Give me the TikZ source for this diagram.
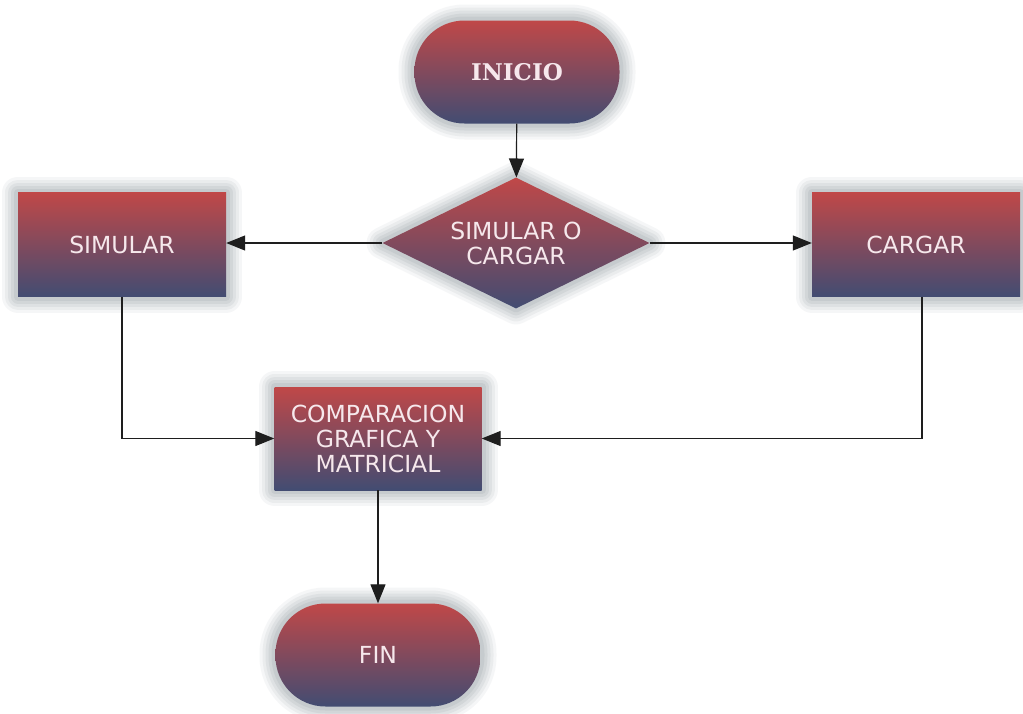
\documentclass[tikz,border=0pt]{standalone}
\usepackage{fontspec}
\setmainfont{DejaVu Sans}
\newfontfamily\slabfont{DejaVu Serif}
\usetikzlibrary{shapes.geometric,arrows.meta}
\definecolor{gtop}{RGB}{192,72,72}
\definecolor{gbot}{RGB}{66,76,114}
\definecolor{txt}{RGB}{246,232,236}
\definecolor{lnc}{RGB}{30,30,30}
\definecolor{glowc}{RGB}{140,148,156}
\tikzset{
  glow/.style={
    preaction={draw=glowc,line join=round,line width=32pt,draw opacity=0.08},
    preaction={draw=glowc,line join=round,line width=26pt,draw opacity=0.10},
    preaction={draw=glowc,line join=round,line width=20pt,draw opacity=0.12},
    preaction={draw=glowc,line join=round,line width=14pt,draw opacity=0.14},
    preaction={draw=glowc,line join=round,line width=8pt,draw opacity=0.16}},
  fillgrad/.style={glow,top color=gtop,bottom color=gbot,draw=none,text=txt,font=\fontsize{23.5}{25}\selectfont,align=center},
  procbox/.style={fillgrad,rectangle,minimum width=208pt,minimum height=104pt,inner sep=0pt},
  termbox/.style={fillgrad,rectangle,rounded corners=50pt,minimum width=205pt,minimum height=103pt,inner sep=0pt},
  decbox/.style={fillgrad,diamond,aspect=2.04,minimum width=267pt,minimum height=131pt,inner sep=0pt},
  conn/.style={draw=lnc,line width=1.2pt,-{Triangle[length=19pt,width=15pt]}},
}
\begin{document}
\begin{tikzpicture}[x=1pt,y=-1pt]
\useasboundingbox[fill=white] (0,0) rectangle (1023,713);
\node[termbox,font=\slabfont\bfseries\fontsize{23}{24}\selectfont] (ini) at (517,72) {INICIO};
\node[decbox] (dec) at (516,243) {SIMULAR O\\CARGAR};
\node[procbox] (sim) at (122,244.5) {SIMULAR};
\node[procbox] (car) at (916,244.5) {CARGAR};
\node[procbox,minimum width=207pt,minimum height=103pt] (cmp) at (378,438.5) {COMPARACION\\GRAFICA Y\\MATRICIAL};
\node[termbox] (fin) at (378,655) {FIN};
\coordinate (simd) at (122,438.5);
\coordinate (card) at (922,438.5);
\draw[conn] (ini) -- (dec);
\draw[conn] (dec.west) -- (sim.east |- dec.west);
\draw[conn] (dec.east) -- (car.west |- dec.east);
\draw[conn] (sim.south) -- (simd) -- (cmp.west);
\draw[conn] (car.south -| card) -- (card) -- (cmp.east);
\draw[conn] (cmp) -- (fin);
\end{tikzpicture}
\end{document}
